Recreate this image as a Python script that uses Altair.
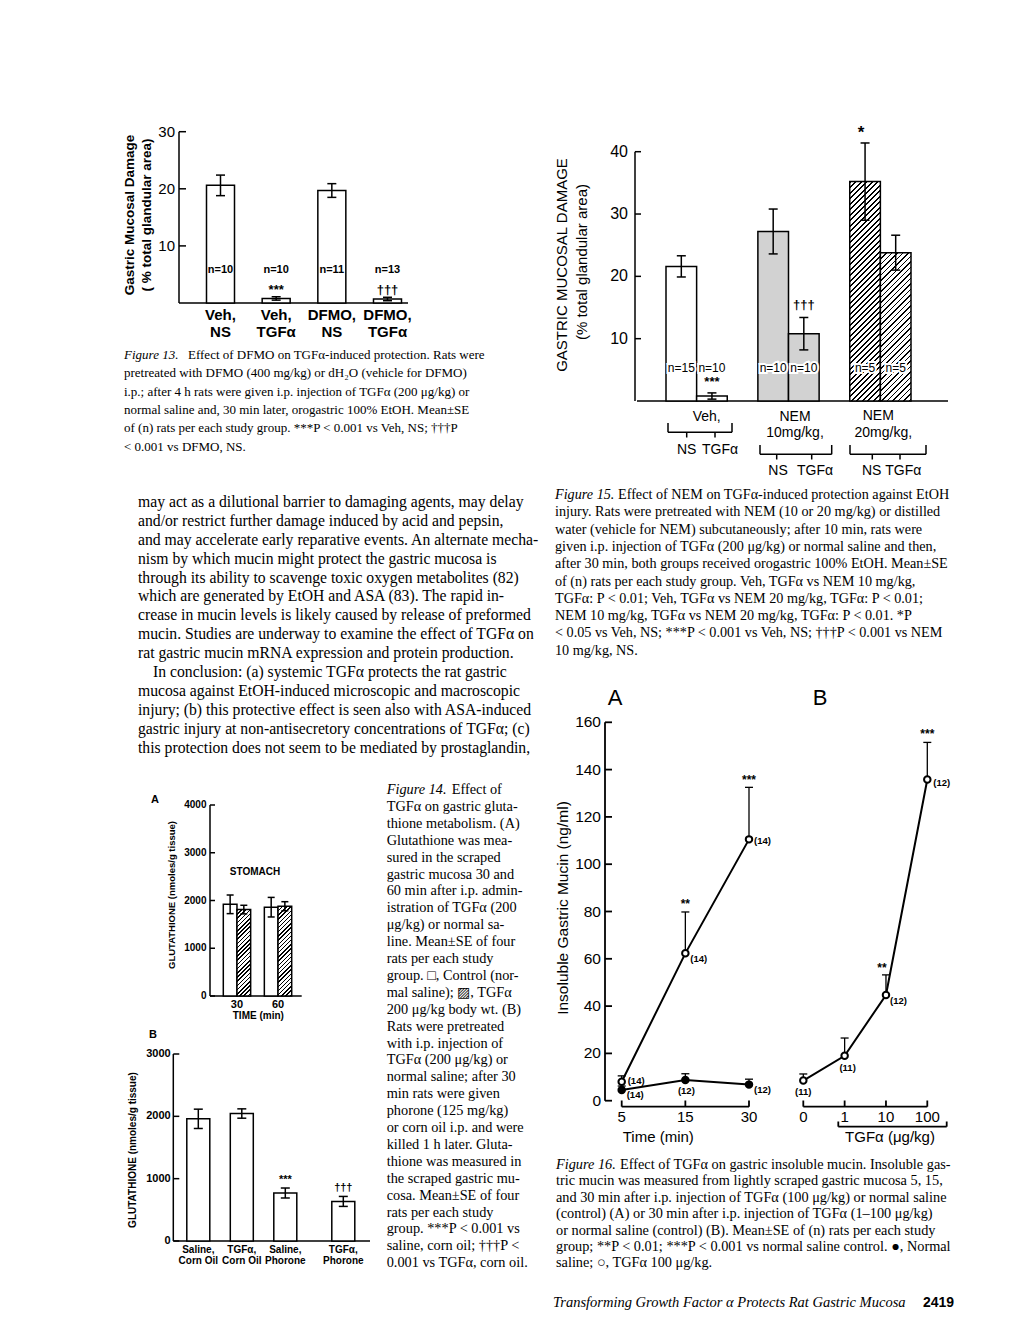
import altair as alt
import pandas as pd

OFF = 8
SERIF = "Liberation Serif"
SANS = "Liberation Sans"

# ------------------------------------------------------------------ data
# Figure 13
f13_group = ["Veh, NS", "Veh, TGFα", "DFMO, NS", "DFMO, TGFα"]
f13_mean = [20.6, 0.8, 19.7, 0.7]
f13_se = [1.8, 0.3, 1.2, 0.3]
f13_n = ["n=10", "n=10", "n=11", "n=13"]
f13_sig = ["", "***", "", "†††"]
f13_lab1 = ["Veh,", "Veh,", "DFMO,", "DFMO,"]
f13_lab2 = ["NS", "TGFα", "NS", "TGFα"]
f13_ticks = [10, 20, 30]

# Figure 15
f15_group = ["Veh NS", "Veh TGFα", "NEM10 NS", "NEM10 TGFα", "NEM20 NS", "NEM20 TGFα"]
f15_mean = [21.6, 0.8, 27.2, 10.8, 35.2, 23.8]
f15_se = [1.7, 0.5, 3.6, 2.6, 6.2, 2.8]
f15_n = ["n=15", "n=10", "n=10", "n=10", "n=5", "n=5"]
f15_fill = ["open", "open", "dotted", "dotted", "hatched", "hatched"]
f15_ticks = [10, 20, 30, 40]

# Figure 14 A
f14a_group = ["30 Control", "30 TGFα", "60 Control", "60 TGFα"]
f14a_mean = [1920, 1810, 1860, 1880]
f14a_se = [195, 90, 205, 95]
f14a_fill = ["open", "hatched", "open", "hatched"]
f14a_ticks = [0, 1000, 2000, 3000, 4000]
f14a_time = ["30", "60"]

# Figure 14 B
f14b_group = ["Saline, Corn Oil", "TGFα, Corn Oil", "Saline, Phorone", "TGFα, Phorone"]
f14b_mean = [1960, 2045, 770, 635]
f14b_se = [155, 75, 80, 80]
f14b_sig = ["", "", "***", "†††"]
f14b_lab1 = ["Saline,", "TGFα,", "Saline,", "TGFα,"]
f14b_lab2 = ["Corn Oil", "Corn Oil", "Phorone", "Phorone"]
f14b_ticks = [0, 1000, 2000, 3000]

# Figure 16
f16a_time = ["5", "15", "30"]
f16a_tgf = [8.0, 62.3, 110.5]
f16a_tgf_se = [2.5, 17.5, 22.0]
f16a_tgf_n = ["(14)", "(14)", "(14)"]
f16a_sal = [4.5, 8.8, 6.8]
f16a_sal_se = [1.7, 2.6, 2.3]
f16a_sal_n = ["(14)", "(12)", "(12)"]
f16a_sig = ["", "**", "***"]
f16b_dose = ["0", "1", "10", "100"]
f16b_tgf = [8.5, 19.0, 44.7, 135.8]
f16b_tgf_se = [2.8, 7.5, 8.5, 15.7]
f16b_n = ["(11)", "(11)", "(12)", "(12)"]
f16b_sig = ["", "", "**", "***"]
f16_ticks = [0, 20, 40, 60, 80, 100, 120, 140, 160]

# text
para = [
    "may act as a dilutional barrier to damaging agents, may delay",
    "and/or restrict further damage induced by acid and pepsin,",
    "and may accelerate early reparative events. An alternate mecha-",
    "nism by which mucin might protect the gastric mucosa is",
    "through its ability to scavenge toxic oxygen metabolites (82)",
    "which are generated by EtOH and ASA (83). The rapid in-",
    "crease in mucin levels is likely caused by release of preformed",
    "mucin. Studies are underway to examine the effect of TGFα on",
    "rat gastric mucin mRNA expression and protein production.",
    "In conclusion: (a) systemic TGFα protects the rat gastric",
    "mucosa against EtOH-induced microscopic and macroscopic",
    "injury; (b) this protective effect is seen also with ASA-induced",
    "gastric injury at non-antisecretory concentrations of TGFα; (c)",
    "this protection does not seem to be mediated by prostaglandin,",
]
cap13 = [
    "Effect of DFMO on TGFα-induced protection. Rats were",
    "pretreated with DFMO (400 mg/kg) or dH₂O (vehicle for DFMO)",
    "i.p.; after 4 h rats were given i.p. injection of TGFα (200 μg/kg) or",
    "normal saline and, 30 min later, orogastric 100% EtOH. Mean±SE",
    "of (n) rats per each study group. ***P < 0.001 vs Veh, NS; †††P",
    "< 0.001 vs DFMO, NS.",
]
cap15 = [
    "Effect of NEM on TGFα-induced protection against EtOH",
    "injury. Rats were pretreated with NEM (10 or 20 mg/kg) or distilled",
    "water (vehicle for NEM) subcutaneously; after 10 min, rats were",
    "given i.p. injection of TGFα (200 μg/kg) or normal saline and then,",
    "after 30 min, both groups received orogastric 100% EtOH. Mean±SE",
    "of (n) rats per each study group. Veh, TGFα vs NEM 10 mg/kg,",
    "TGFα: P < 0.01; Veh, TGFα vs NEM 20 mg/kg, TGFα: P < 0.01;",
    "NEM 10 mg/kg, TGFα vs NEM 20 mg/kg, TGFα: P < 0.01. *P",
    "< 0.05 vs Veh, NS; ***P < 0.001 vs Veh, NS; †††P < 0.001 vs NEM",
    "10 mg/kg, NS.",
]
cap14 = [
    "Effect of",
    "TGFα on gastric gluta-",
    "thione metabolism. (A)",
    "Glutathione was mea-",
    "sured in the scraped",
    "gastric mucosa 30 and",
    "60 min after i.p. admin-",
    "istration of TGFα (200",
    "μg/kg) or normal sa-",
    "line. Mean±SE of four",
    "rats per each study",
    "group. □, Control (nor-",
    "mal saline); ▨, TGFα",
    "200 μg/kg body wt. (B)",
    "Rats were pretreated",
    "with i.p. injection of",
    "TGFα (200 μg/kg) or",
    "normal saline; after 30",
    "min rats were given",
    "phorone (125 mg/kg)",
    "or corn oil i.p. and were",
    "killed 1 h later. Gluta-",
    "thione was measured in",
    "the scraped gastric mu-",
    "cosa. Mean±SE of four",
    "rats per each study",
    "group. ***P < 0.001 vs",
    "saline, corn oil; †††P <",
    "0.001 vs TGFα, corn oil.",
]
cap16 = [
    "Effect of TGFα on gastric insoluble mucin. Insoluble gas-",
    "tric mucin was measured from lightly scraped gastric mucosa 5, 15,",
    "and 30 min after i.p. injection of TGFα (100 μg/kg) or normal saline",
    "(control) (A) or 30 min after i.p. injection of TGFα (1–100 μg/kg)",
    "or normal saline (control) (B). Mean±SE of (n) rats per each study",
    "group; **P < 0.01; ***P < 0.001 vs normal saline control. ●, Normal",
    "saline; ○, TGFα 100 μg/kg.",
]
footer_title = "Transforming Growth Factor α Protects Rat Gastric Mucosa"
footer_page = "2419"

# ------------------------------------------------------------------ helpers
layers = []
ONE = pd.DataFrame({"z": [0]})


def lin(d0, d1, p0, p1):
    return alt.Scale(domain=[d0, d1], range=[p0 - OFF, p1 - OFF], nice=False, zero=False)


def band(domain, start, end, pad=0.0):
    return alt.Scale(type="band", domain=domain, range=[start - OFF, end - OFF],
                     paddingInner=pad, paddingOuter=0)


def pscale(domain, start, end):
    return alt.Scale(type="point", domain=domain, range=[start - OFF, end - OFF], padding=0)


def label(text, x, y, size=14, font=SANS, weight="normal", style="normal", align="center", angle=None):
    kw = dict(text=text, align=align, baseline="middle", font=font, fontSize=size,
              fontWeight=weight, fontStyle=style, color="black")
    if angle is not None:
        kw["angle"] = angle
    return alt.Chart(ONE).mark_text(**kw).encode(x=alt.value(x - OFF), y=alt.value(y - OFF))


def seg(x1, y1, x2, y2, w=1.5):
    return alt.Chart(ONE).mark_rule(color="black", strokeWidth=w).encode(
        x=alt.value(x1 - OFF), y=alt.value(y1 - OFF), x2=alt.value(x2 - OFF), y2=alt.value(y2 - OFF))


def text_block(lines, x0, y0, lh, size, start=0, style="normal", font=SERIF):
    df = pd.DataFrame({"t": lines, "i": list(range(start, start + len(lines)))})
    return alt.Chart(df).mark_text(align="left", baseline="middle", font=font, fontSize=size,
                                   fontStyle=style, color="black").encode(
        x=alt.value(x0 - OFF), y=alt.Y("i:Q", scale=lin(0, 1, y0, y0 + lh), axis=None), text="t:N")


def caption(num, lines, x0, y0, lh, size, gap):
    return [label("Figure %s." % num, x0, y0, size=size, font=SERIF, style="italic", align="left"),
            label(lines[0], x0 + gap, y0, size=size, font=SERIF, align="left"),
            text_block(lines[1:], x0, y0, lh, size, start=1)]


def y_axis(scale, lo, hi, ticks, x, tlen, lab_x, size, weight="normal", w=1.5):
    line = alt.Chart(pd.DataFrame({"lo": [lo], "hi": [hi]})).mark_rule(color="black", strokeWidth=w).encode(
        x=alt.value(x - OFF), y=alt.Y("lo:Q", scale=scale, axis=None), y2="hi:Q")
    td = pd.DataFrame({"v": ticks, "l": [str(t) for t in ticks]})
    tk = alt.Chart(td).mark_rule(color="black", strokeWidth=w).encode(
        x=alt.value(x - OFF), x2=alt.value(x + tlen - OFF), y=alt.Y("v:Q", scale=scale, axis=None))
    lb = alt.Chart(td).mark_text(align="right", baseline="middle", font=SANS, fontSize=size,
                                 fontWeight=weight, color="black").encode(
        x=alt.value(lab_x - OFF), y=alt.Y("v:Q", scale=scale, axis=None), text="l:N")
    return [line, tk, lb]


def base_line(scale, x1, x2, w=1.5):
    return alt.Chart(ONE).mark_rule(color="black", strokeWidth=w).encode(
        x=alt.value(x1 - OFF), x2=alt.value(x2 - OFF), y=alt.Y("z:Q", scale=scale, axis=None))


def bars(df, xs, ys, fill, width=None, sw=1.5):
    kw = dict(fill=fill, stroke="black", strokeWidth=sw, opacity=1)
    if width:
        kw["width"] = width
    return alt.Chart(df).mark_bar(**kw).encode(
        x=alt.X("g:N", scale=xs, axis=None), y=alt.Y("m:Q", scale=ys, axis=None), y2="z:Q")


def errbars(df, xs, ys, cap, xfield="g:N", lo="lo", hi="hi", sw=1.5, both=True):
    out = [alt.Chart(df).mark_rule(color="black", strokeWidth=sw).encode(
        x=alt.X(xfield, scale=xs, axis=None, bandPosition=0.5),
        y=alt.Y(lo + ":Q", scale=ys, axis=None), y2=hi + ":Q")]
    for f in ([hi, lo] if both else [hi]):
        out.append(alt.Chart(df).mark_tick(color="black", orient="horizontal", size=cap,
                                           thickness=sw, opacity=1).encode(
            x=alt.X(xfield, scale=xs, axis=None, bandPosition=0.5),
            y=alt.Y(f + ":Q", scale=ys, axis=None)))
    return out


def band_text(df, xs, field, y=None, ys=None, yfield=None, dy=0, dx=0, size=12, weight="normal",
              halo=False, xfield="g:N", align="center", bandpos=0.5):
    kw = dict(align=align, baseline="middle", font=SANS, fontSize=size, fontWeight=weight, dy=dy, dx=dx)
    if halo:
        kw.update(fill="white", stroke="white", strokeWidth=4)
    else:
        kw["color"] = "black"
    enc = dict(x=alt.X(xfield, scale=xs, axis=None, bandPosition=bandpos), text=field)
    enc["y"] = alt.Y(yfield, scale=ys, axis=None) if yfield else alt.value(y - OFF)
    return alt.Chart(df).mark_text(**kw).encode(**enc)


def hatch(w, h, period=5.5, lw=1.9):
    L = w + h
    stops = []
    s = 0.0
    while s < L - 1e-6:
        e = min(s + lw, L)
        nxt = min(s + period, L)
        stops += [alt.GradientStop(offset=round(s / L, 5), color="black"),
                  alt.GradientStop(offset=round(e / L, 5), color="black"),
                  alt.GradientStop(offset=round(e / L, 5), color="white"),
                  alt.GradientStop(offset=round(nxt / L, 5), color="white")]
        s += period
    a = L * w * h / (w * w + h * h)
    return alt.LinearGradient(gradient="linear", stops=stops, x1=0, y1=0, x2=a / h, y2=a / w)


def frame(groups, means, ses, **extra):
    df = pd.DataFrame({"g": groups, "m": means, "se": ses})
    df["lo"] = df["m"] - df["se"]
    df["hi"] = df["m"] + df["se"]
    df["z"] = 0
    for k, v in extra.items():
        df[k] = v
    return df


# ------------------------------------------------------------------ Figure 13
y13 = lin(0, 30, 303, 131.7)
x13 = band(f13_group, 206.5, 401.5, 0.497)
d13 = frame(f13_group, f13_mean, f13_se, n=f13_n, sig=f13_sig, l1=f13_lab1, l2=f13_lab2)
layers += y_axis(y13, 0, 30, f13_ticks, 179, 7, 175, 15)
layers.append(base_line(y13, 179, 408))
layers.append(bars(d13, x13, y13, "white"))
layers += errbars(d13, x13, y13, 9)
layers.append(band_text(d13, x13, "n:N", y=270, size=11, weight="bold"))
layers.append(band_text(d13, x13, "sig:N", y=290, size=13, weight="bold"))
layers.append(band_text(d13, x13, "l1:N", y=315, size=15, weight="bold"))
layers.append(band_text(d13, x13, "l2:N", y=332, size=15, weight="bold"))
layers.append(label("Gastric Mucosal Damage", 130, 215, size=13.5, weight="bold", angle=270))
layers.append(label("( % total glandular area)", 147, 215, size=13.5, weight="bold", angle=270))
layers += caption(13, cap13, 124, 355, 18.3, 13, 64)

# ------------------------------------------------------------------ Figure 15
f15_slots = ["Veh NS", "Veh TGFα", "gap 1", "NEM10 NS", "NEM10 TGFα", "gap 2", "NEM20 NS", "NEM20 TGFα"]
y15 = lin(0, 40, 401, 151.7)
x15 = band(f15_slots, 666, 911)
d15 = frame(f15_group, f15_mean, f15_se, n=f15_n, fill=f15_fill)
ppu15 = (401 - 151.7) / 40
slot15 = (911 - 666) / 8
layers += y_axis(y15, 0, 40, f15_ticks, 635, 6, 628, 16)
layers.append(base_line(y15, 637, 948))
layers.append(bars(d15[d15["fill"] == "open"], x15, y15, "white"))
layers.append(bars(d15[d15["fill"] == "dotted"], x15, y15, "#d2d2d2"))
for i in d15.index[d15["fill"] == "hatched"]:
    layers.append(bars(d15.loc[[i]], x15, y15, hatch(slot15, d15.loc[i, "m"] * ppu15, 5.5, 1.7)))
layers += errbars(d15, x15, y15, 9)
layers.append(band_text(d15, x15, "n:N", y=368, size=12, halo=True))
layers.append(band_text(d15, x15, "n:N", y=368, size=12))
layers.append(band_text(d15.iloc[[1]].assign(s="***"), x15, "s:N", y=382, size=13, weight="bold"))
layers.append(band_text(d15.iloc[[3]].assign(s="†††"), x15, "s:N", ys=y15, yfield="hi:Q", dy=-12,
                        size=13, weight="bold"))
layers.append(band_text(d15.iloc[[4]].assign(s="*"), x15, "s:N", ys=y15, yfield="hi:Q", dy=-10,
                        dx=-4, size=17, weight="bold"))
layers.append(label("GASTRIC MUCOSAL DAMAGE", 561.7, 265, size=15, angle=270))
layers.append(label("(% total glandular area)", 581.7, 262, size=15, angle=270))
# group labels and brackets
layers.append(label("Veh,", 706.7, 417, size=14))
layers += [seg(668, 432.3, 732, 432.3), seg(668, 423, 668, 432.3), seg(732, 423, 732, 432.3),
           seg(686.7, 432.3, 686.7, 437.5), seg(715, 432.3, 715, 437.5)]
layers.append(label("NS", 686.7, 450, size=14))
layers.append(label("TGFα", 720, 450, size=14))
layers.append(label("NEM", 795, 417, size=14))
layers.append(label("10mg/kg,", 795, 433, size=14))
layers += [seg(760, 454.3, 831.7, 454.3), seg(760, 445, 760, 454.3), seg(831.7, 445, 831.7, 454.3),
           seg(776.7, 454.3, 776.7, 459.5), seg(811.7, 454.3, 811.7, 459.5)]
layers.append(label("NS", 778, 471, size=14))
layers.append(label("TGFα", 815, 471, size=14))
layers.append(label("NEM", 878.3, 416, size=14))
layers.append(label("20mg/kg,", 883.3, 433, size=14))
layers += [seg(850, 454.3, 926, 454.3), seg(850, 445, 850, 454.3), seg(926, 445, 926, 454.3),
           seg(872.3, 454.3, 872.3, 459.5), seg(900, 454.3, 900, 459.5)]
layers.append(label("NS", 871.7, 471, size=14))
layers.append(label("TGFα", 903.3, 471, size=14))
layers += caption(15, cap15, 555, 495, 17.3, 14.2, 63)

# ------------------------------------------------------------------ paragraph
PX, PY, PL, PS = 138, 501.7, 18.95, 15.7
layers.append(text_block(para[:9], PX, PY, PL, PS, start=0))
layers.append(text_block(para[9:10], PX + 15, PY, PL, PS, start=9))
layers.append(text_block(para[10:], PX, PY, PL, PS, start=10))

# ------------------------------------------------------------------ Figure 14 A
f14a_slots = ["30 Control", "30 TGFα", "gap", "60 Control", "60 TGFα"]
x14a = band(f14a_slots, 223.3, 291.7)
y14a = lin(0, 4000, 996, 805)
d14a = frame(f14a_group, f14a_mean, f14a_se, fill=f14a_fill)
ppu14a = (996 - 805) / 4000
slot14a = (291.7 - 223.3) / 5
layers.append(label("A", 155, 800, size=11, weight="bold"))
layers += y_axis(y14a, 0, 4000, f14a_ticks, 210, 5, 206.5, 10, weight="bold")
layers.append(base_line(y14a, 210, 301.7))
layers.append(bars(d14a[d14a["fill"] == "open"], x14a, y14a, "white"))
for i in d14a.index[d14a["fill"] == "hatched"]:
    layers.append(bars(d14a.loc[[i]], x14a, y14a, hatch(slot14a, d14a.loc[i, "m"] * ppu14a, 4.2, 1.5)))
layers += errbars(d14a, x14a, y14a, 7)
layers.append(label("STOMACH", 255, 872, size=10, weight="bold"))
t14 = pd.DataFrame({"g": ["30 TGFα", "60 TGFα"], "t": f14a_time})
layers.append(band_text(t14, x14a, "t:N", y=1005, size=11, weight="bold", bandpos=0))
layers.append(label("TIME (min)", 258.3, 1016, size=10, weight="bold"))
layers.append(label("GLUTATHIONE  (nmoles/g tissue)", 171.7, 895, size=9.5, weight="bold", angle=270))

# ------------------------------------------------------------------ Figure 14 B
f14b_slots = ["Saline, Corn Oil", "s1", "s2", "TGFα, Corn Oil", "s3", "s4",
              "Saline, Phorone", "s5", "s6", "s7", "TGFα, Phorone"]
x14b = band(f14b_slots, 191.05, 350.55)
y14b = lin(0, 3000, 1241, 1054)
d14b = frame(f14b_group, f14b_mean, f14b_se, sig=f14b_sig, l1=f14b_lab1, l2=f14b_lab2)
layers.append(label("B", 153, 1035, size=11, weight="bold"))
layers += y_axis(y14b, 0, 3000, f14b_ticks, 173.3, 6, 170.7, 11, weight="bold")
layers.append(base_line(y14b, 173.3, 370))
layers.append(bars(d14b, x14b, y14b, "white", width=23))
layers += errbars(d14b, x14b, y14b, 9)
layers.append(band_text(d14b, x14b, "sig:N", ys=y14b, yfield="hi:Q", dy=-8, size=11, weight="bold"))
layers.append(band_text(d14b, x14b, "l1:N", y=1250, size=10, weight="bold"))
layers.append(band_text(d14b, x14b, "l2:N", y=1261, size=10, weight="bold"))
layers.append(label("GLUTATHIONE  (nmoles/g tissue)", 133, 1150, size=10, weight="bold", angle=270))
layers += caption(14, cap14, 386.7, 790, 16.9, 14.3, 65)

# ------------------------------------------------------------------ Figure 16
y16 = lin(0, 160, 1100.7, 722.3)
x16a = pscale(f16a_time, 621.7, 749)
x16b = pscale(f16b_dose, 803.3, 927.3)


def series(xs, ms, ses, ns, sig=None):
    df = pd.DataFrame({"x": xs, "m": ms, "k": list(range(len(xs))), "n": ns})
    df["hi"] = df["m"] + pd.Series(ses)
    if sig is not None:
        df["sig"] = sig
    return df


da_t = series(f16a_time, f16a_tgf, f16a_tgf_se, f16a_tgf_n, f16a_sig)
da_s = series(f16a_time, f16a_sal, f16a_sal_se, f16a_sal_n)
db_t = series(f16b_dose, f16b_tgf, f16b_tgf_se, f16b_n, f16b_sig)

layers.append(label("A", 615, 698, size=22))
layers.append(label("B", 820, 698, size=22))
layers += y_axis(y16, 0, 160, f16_ticks, 605, 7, 601, 15.5, w=1.8)

for df, xs in [(da_s, x16a), (da_t, x16a), (db_t, x16b)]:
    layers.append(alt.Chart(df).mark_line(color="black", strokeWidth=2).encode(
        x=alt.X("x:N", scale=xs, axis=None), y=alt.Y("m:Q", scale=y16, axis=None), order="k:Q"))
for df, xs in [(da_s, x16a), (da_t, x16a), (db_t, x16b)]:
    layers += errbars(df, xs, y16, 8, xfield="x:N", lo="m", hi="hi", sw=1.3, both=False)
for df, xs, fill in [(da_s, x16a, "black"), (da_t, x16a, "white"), (db_t, x16b, "white")]:
    layers.append(alt.Chart(df).mark_point(shape="circle", filled=True, fill=fill, stroke="black",
                                           strokeWidth=2, size=42, opacity=1).encode(
        x=alt.X("x:N", scale=xs, axis=None), y=alt.Y("m:Q", scale=y16, axis=None)))


def pt_label(df, i, xs, dx, dy, align="left", field="n:N", yfield="m:Q", size=9.5):
    return band_text(df.iloc[[i]], xs, field, ys=y16, yfield=yfield, dx=dx, dy=dy, size=size,
                     weight="bold", xfield="x:N", align=align)


layers += [pt_label(da_t, 0, x16a, 6, -1), pt_label(da_t, 1, x16a, 5, 6), pt_label(da_t, 2, x16a, 5, 2),
           pt_label(da_s, 0, x16a, 5, 5), pt_label(da_s, 1, x16a, 1, 11, "center"),
           pt_label(da_s, 2, x16a, 5, 5),
           pt_label(db_t, 0, x16b, 0, 11, "center"), pt_label(db_t, 1, x16b, 3, 12, "center"),
           pt_label(db_t, 2, x16b, 4, 6), pt_label(db_t, 3, x16b, 6, 3)]
layers += [pt_label(da_t, 1, x16a, 0, -8, "center", "sig:N", "hi:Q", 12),
           pt_label(da_t, 2, x16a, 0, -7, "center", "sig:N", "hi:Q", 12),
           pt_label(db_t, 2, x16b, -4, -7, "center", "sig:N", "hi:Q", 12),
           pt_label(db_t, 3, x16b, 0, -8, "center", "sig:N", "hi:Q", 12)]

# x axes of figure 16
for vals, xs, x1, x2 in [(f16a_time, x16a, 621.7, 749), (f16b_dose, x16b, 803.3, 927.3)]:
    layers.append(seg(x1, 1106.7, x2, 1106.7, 1.8))
    td = pd.DataFrame({"x": vals})
    layers.append(alt.Chart(td).mark_rule(color="black", strokeWidth=1.8).encode(
        x=alt.X("x:N", scale=xs, axis=None), y=alt.value(1100.5 - OFF), y2=alt.value(1106.7 - OFF)))
    layers.append(alt.Chart(td).mark_text(align="center", baseline="middle", font=SANS, fontSize=15,
                                          color="black").encode(
        x=alt.X("x:N", scale=xs, axis=None), y=alt.value(1117 - OFF), text="x:N"))
layers.append(label("Time (min)", 658.3, 1137, size=15))
layers += [seg(838.3, 1126.7, 946.7, 1126.7, 1.8), seg(838.3, 1121.5, 838.3, 1126.7, 1.8),
           seg(946.7, 1121.5, 946.7, 1126.7, 1.8)]
layers.append(label("TGFα (μg/kg)", 890, 1137, size=15))
layers.append(label("Insoluble Gastric Mucin (ng/ml)", 563, 908, size=15.5, angle=270))
layers += caption(16, cap16, 556, 1165, 16.4, 14.3, 64)

# ------------------------------------------------------------------ footer
layers.append(label(footer_title, 553, 1303, size=14.5, font=SERIF, style="italic", align="left"))
layers.append(label(footer_page, 923, 1303, size=14, weight="bold", align="left"))

chart = alt.layer(*layers).resolve_scale(x="independent", y="independent").properties(
    width=1004, height=1304, padding=0, background="white",
    autosize=alt.AutoSizeParams(type="none"),
).configure_view(stroke=None)

chart.save("out.html", embed_options={"renderer": "svg", "actions": False})
